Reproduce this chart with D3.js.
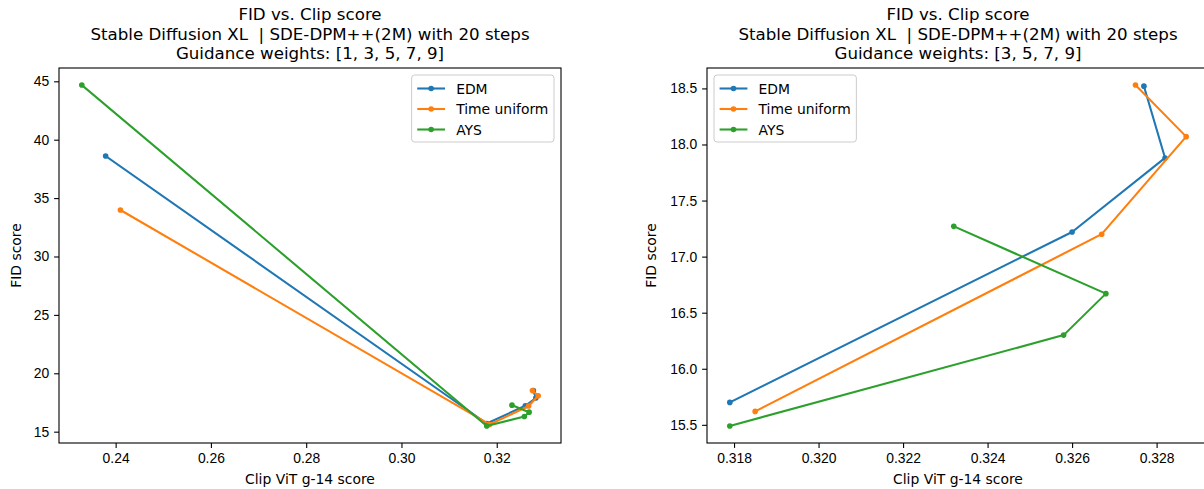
<!DOCTYPE html>
<html>
<head>
<meta charset="utf-8">
<script src="https://cdn.jsdelivr.net/npm/d3@7/dist/d3.min.js"></script>
<style>
  body { margin: 0; background: #fff; }
  svg { display: block; font-family: 'DejaVu Sans', sans-serif; }
  .eje text { font-size: 13.9px; fill: #000; }
  .eje line { stroke: #000; stroke-width: 1.1px; }
</style>
</head>
<body>
<div id="graf"></div>
<script>
// I. Datos
pesosIzq = [1, 3, 5, 7, 9]
pesosDer = [3, 5, 7, 9]

nombres = ['EDM', 'Time uniform', 'AYS']
colores = ['#1f77b4', '#ff7f0e', '#2ca02c']

clipEDM = [0.2379, 0.3179, 0.3260, 0.3282, 0.3277]
fidEDM  = [38.60, 15.70, 17.22, 17.88, 18.52]

clipUniforme = [0.2410, 0.3185, 0.3267, 0.3287, 0.3275]
fidUniforme  = [33.98, 15.62, 17.20, 18.07, 18.53]

clipAYS = [0.2329, 0.3179, 0.3258, 0.3268, 0.3232]
fidAYS  = [44.68, 15.49, 16.30, 16.67, 17.27]

ticksXIzq = [0.24, 0.26, 0.28, 0.30, 0.32]
ticksYIzq = [15, 20, 25, 30, 35, 40, 45]
ticksXDer = [0.318, 0.320, 0.322, 0.324, 0.326, 0.328]
ticksYDer = [15.5, 16.0, 16.5, 17.0, 17.5, 18.0, 18.5]

titulo1 = 'FID vs. Clip score'
titulo2 = 'Stable Diffusion XL \u00a0| SDE-DPM++(2M) with 20 steps'

// II. Configuración
ancho_total = 1204
alto_total = 489
fs = 13.9

svg = d3.select('#graf').append('svg')
        .attr('width', ancho_total)
        .attr('height', alto_total)

todas = [
  { nombre: nombres[0], color: colores[0], clip: clipEDM, fid: fidEDM },
  { nombre: nombres[1], color: colores[1], clip: clipUniforme, fid: fidUniforme },
  { nombre: nombres[2], color: colores[2], clip: clipAYS, fid: fidAYS }
]

// matplotlib deja un 5% de margen alrededor de los datos
function dominio(valores) {
  ext = d3.extent(valores)
  m = (ext[1] - ext[0]) * 0.05
  return [ext[0] - m, ext[1] + m]
}

// III. Dibujo de cada panel
function panel(cfg) {
  g = svg.append('g')
         .attr('transform', `translate(${cfg.left}, ${cfg.top})`)

  datos = todas.map(s => ({
    nombre: s.nombre,
    color: s.color,
    puntos: s.clip.slice(cfg.desde).map((c, i) => ({ x: c, y: s.fid.slice(cfg.desde)[i] }))
  }))

  x = d3.scaleLinear()
        .domain(dominio(datos.flatMap(d => d.puntos.map(p => p.x))))
        .range([0, cfg.ancho])
  y = d3.scaleLinear()
        .domain(dominio(datos.flatMap(d => d.puntos.map(p => p.y))))
        .range([cfg.alto, 0])

  // ejes
  xAxisGroup = g.append('g')
                .attr('class', 'eje')
                .attr('transform', `translate(0, ${cfg.alto})`)
                .call(d3.axisBottom(x)
                        .tickValues(cfg.ticksX)
                        .tickFormat(d3.format(cfg.fmtX))
                        .tickSize(4.9)
                        .tickPadding(4.9))
  xAxisGroup.select('.domain').remove()

  yAxisGroup = g.append('g')
                .attr('class', 'eje')
                .call(d3.axisLeft(y)
                        .tickValues(cfg.ticksY)
                        .tickFormat(d3.format(cfg.fmtY))
                        .tickSize(4.9)
                        .tickPadding(4.9))
  yAxisGroup.select('.domain').remove()

  // líneas con marcadores
  linea = d3.line().x(p => x(p.x)).y(p => y(p.y))

  serie = g.selectAll('g.serie')
           .data(datos)
           .enter()
           .append('g')
             .attr('class', 'serie')

  serie.append('path')
       .attr('d', d => linea(d.puntos))
       .attr('fill', 'none')
       .attr('stroke', d => d.color)
       .attr('stroke-width', 2.08)
       .attr('stroke-linejoin', 'round')
       .attr('stroke-linecap', 'square')

  serie.selectAll('circle')
       .data(d => d.puntos.map(p => ({ p: p, color: d.color })))
       .enter()
       .append('circle')
         .attr('cx', d => x(d.p.x))
         .attr('cy', d => y(d.p.y))
         .attr('r', 2.8)
         .attr('fill', d => d.color)

  // marco
  g.append('rect')
   .attr('width', cfg.ancho)
   .attr('height', cfg.alto)
   .attr('fill', 'none')
   .attr('stroke', '#000')
   .attr('stroke-width', 1.1)

  // títulos
  lineas = [titulo1, titulo2, cfg.titulo3]
  g.selectAll('text.titulo')
   .data(lineas)
   .enter()
   .append('text')
     .attr('class', 'titulo')
     .attr('x', cfg.ancho / 2)
     .attr('y', (d, i) => -48 + i * 19.7)
     .attr('text-anchor', 'middle')
     .style('font-size', '16.67px')
     .text(d => d)

  g.append('text')
   .attr('x', cfg.ancho / 2)
   .attr('y', cfg.alto + 41)
   .attr('text-anchor', 'middle')
   .style('font-size', fs + 'px')
   .text('Clip ViT g-14 score')

  g.append('text')
   .attr('transform', `translate(${cfg.ylab}, ${cfg.alto / 2}) rotate(-90)`)
   .attr('text-anchor', 'middle')
   .style('font-size', fs + 'px')
   .text('FID score')

  // leyenda
  ley = g.append('g')
  caja = ley.append('rect')
            .attr('rx', 3)
            .attr('fill', '#fff')
            .attr('fill-opacity', 0.8)
            .attr('stroke', '#ccc')
            .attr('stroke-width', 1)
  filas = ley.selectAll('g.fila')
             .data(datos)
             .enter()
             .append('g')
               .attr('class', 'fila')
               .attr('transform', (d, i) => `translate(5.6, ${13.5 + i * 20.5})`)
  filas.append('line')
       .attr('x1', 0).attr('x2', 27.8)
       .attr('stroke', d => d.color)
       .attr('stroke-width', 2.08)
  filas.append('circle')
       .attr('cx', 13.9)
       .attr('r', 2.8)
       .attr('fill', d => d.color)
  filas.append('text')
       .attr('x', 27.8 + 11.1)
       .attr('dy', '0.36em')
       .style('font-size', fs + 'px')
       .text(d => d.nombre)

  anchoLey = d3.max(filas.selectAll('text').nodes(), n => n.getComputedTextLength()) + 27.8 + 11.1 + 11.2
  caja.attr('width', anchoLey).attr('height', 67)
  lx = cfg.leyDerecha ? cfg.ancho - 7 - anchoLey : 7
  ley.attr('transform', `translate(${lx}, 7)`)
}

panel({ left: 59, top: 68, ancho: 502, alto: 375, desde: 0,
        ticksX: ticksXIzq, ticksY: ticksYIzq, fmtX: '.2f', fmtY: 'd',
        titulo3: 'Guidance weights: [' + pesosIzq.join(', ') + ']',
        ylab: -38, leyDerecha: true })

panel({ left: 707, top: 68, ancho: 502, alto: 375, desde: 1,
        ticksX: ticksXDer, ticksY: ticksYDer, fmtX: '.3f', fmtY: '.1f',
        titulo3: 'Guidance weights: [' + pesosDer.join(', ') + ']',
        ylab: -51, leyDerecha: false })
</script>
</body>
</html>
